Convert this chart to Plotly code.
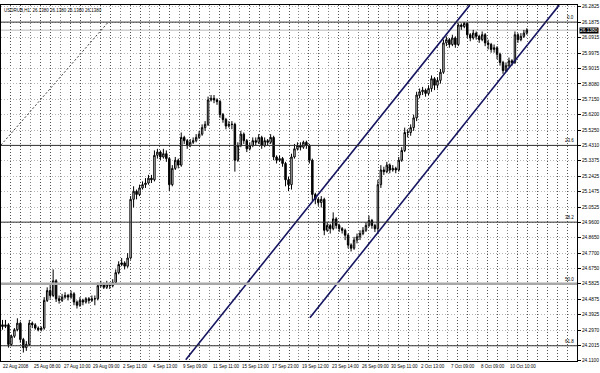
import numpy as np
import plotly.graph_objects as go

header_text = "USDRUB,H1  26.1380 26.1380 26.1380 26.1380"
last_price = 26.1380

opens = [24.33, 24.32, 24.33, 24.21, 24.26, 24.30, 24.34, 24.24, 24.19, 24.21,
         24.34, 24.33, 24.31, 24.30, 24.31, 24.48, 24.54, 24.51, 24.60, 24.49,
         24.48, 24.50, 24.51, 24.50, 24.52, 24.47, 24.45, 24.48, 24.47, 24.49,
         24.48, 24.49, 24.49, 24.57, 24.58, 24.56, 24.58, 24.57, 24.59, 24.65,
         24.70, 24.71, 24.69, 24.74, 25.10, 25.15, 25.13, 25.17, 25.19, 25.20,
         25.23, 25.22, 25.37, 25.39, 25.36, 25.38, 25.35, 25.19, 25.29, 25.34,
         25.31, 25.48, 25.46, 25.43, 25.45, 25.46, 25.48, 25.50, 25.54, 25.56,
         25.71, 25.72, 25.71, 25.70, 25.62, 25.59, 25.55, 25.56, 25.56, 25.34,
         25.43, 25.50, 25.46, 25.41, 25.43, 25.46, 25.45, 25.48, 25.43, 25.46,
         25.45, 25.48, 25.36, 25.34, 25.35, 25.32, 25.22, 25.19, 25.36, 25.41,
         25.43, 25.42, 25.45, 25.43, 25.34, 25.13, 25.10, 25.08, 25.10, 24.91,
         24.94, 24.92, 24.98, 24.94, 24.92, 24.91, 24.88, 24.82, 24.80, 24.85,
         24.87, 24.89, 24.91, 24.94, 24.97, 24.94, 24.92, 25.19, 25.28, 25.27,
         25.31, 25.28, 25.29, 25.28, 25.34, 25.40, 25.51, 25.51, 25.54, 25.60,
         25.74, 25.76, 25.77, 25.75, 25.78, 25.84, 25.80, 25.83, 25.88, 26.06,
         26.08, 26.05, 26.09, 26.05, 26.17, 26.16, 26.18, 26.11, 26.09, 26.12,
         26.10, 26.08, 26.11, 26.06, 26.05, 26.02, 26.03, 25.99, 25.94, 25.89,
         25.92, 25.95, 25.94, 26.11, 26.08, 26.10, 26.12]
highs = [24.36, 24.36, 24.34, 24.27, 24.31, 24.37, 24.35, 24.25, 24.23, 24.36,
         24.35, 24.34, 24.32, 24.32, 24.50, 24.56, 24.58, 24.67, 24.61, 24.51,
         24.52, 24.53, 24.52, 24.54, 24.53, 24.48, 24.50, 24.49, 24.50, 24.50,
         24.51, 24.51, 24.59, 24.60, 24.59, 24.60, 24.59, 24.61, 24.67, 24.72,
         24.74, 24.72, 24.77, 25.12, 25.18, 25.16, 25.19, 25.21, 25.23, 25.25,
         25.25, 25.40, 25.41, 25.40, 25.41, 25.40, 25.36, 25.31, 25.36, 25.35,
         25.51, 25.49, 25.47, 25.47, 25.48, 25.50, 25.52, 25.56, 25.58, 25.73,
         25.74, 25.74, 25.72, 25.71, 25.63, 25.60, 25.58, 25.58, 25.57, 25.45,
         25.52, 25.51, 25.47, 25.45, 25.48, 25.48, 25.50, 25.49, 25.48, 25.47,
         25.50, 25.49, 25.37, 25.37, 25.36, 25.33, 25.24, 25.38, 25.44, 25.45,
         25.45, 25.46, 25.46, 25.44, 25.35, 25.14, 25.11, 25.12, 25.11, 24.96,
         24.95, 25.02, 24.99, 24.95, 24.93, 24.92, 24.89, 24.83, 24.87, 24.89,
         24.91, 24.93, 24.96, 25.00, 24.98, 24.95, 25.22, 25.31, 25.30, 25.33,
         25.32, 25.31, 25.30, 25.36, 25.42, 25.54, 25.53, 25.56, 25.62, 25.76,
         25.78, 25.79, 25.78, 25.80, 25.86, 25.85, 25.85, 25.90, 26.08, 26.10,
         26.09, 26.11, 26.10, 26.18, 26.18, 26.1875, 26.185, 26.12, 26.14, 26.13,
         26.11, 26.13, 26.12, 26.08, 26.06, 26.05, 26.04, 26.00, 25.95, 25.94,
         25.97, 25.96, 26.13, 26.12, 26.12, 26.14, 26.15]
lows = [24.30, 24.31, 24.19, 24.20, 24.25, 24.29, 24.22, 24.16, 24.17, 24.20,
        24.31, 24.30, 24.29, 24.29, 24.30, 24.47, 24.49, 24.50, 24.47, 24.46,
        24.47, 24.49, 24.48, 24.49, 24.45, 24.43, 24.44, 24.45, 24.46, 24.46,
        24.47, 24.45, 24.48, 24.56, 24.55, 24.55, 24.55, 24.56, 24.58, 24.64,
        24.69, 24.67, 24.68, 24.73, 25.05, 25.10, 25.12, 25.16, 25.17, 25.19,
        25.20, 25.21, 25.35, 25.34, 25.35, 25.33, 25.15, 25.18, 25.28, 25.29,
        25.30, 25.44, 25.41, 25.42, 25.44, 25.45, 25.47, 25.49, 25.52, 25.55,
        25.70, 25.69, 25.68, 25.60, 25.57, 25.53, 25.54, 25.53, 25.27, 25.33,
        25.42, 25.44, 25.39, 25.40, 25.42, 25.43, 25.44, 25.41, 25.42, 25.43,
        25.44, 25.34, 25.32, 25.33, 25.30, 25.18, 25.15, 25.16, 25.35, 25.40,
        25.40, 25.41, 25.41, 25.32, 25.09, 25.07, 25.06, 25.05, 24.88, 24.90,
        24.89, 24.91, 24.92, 24.90, 24.89, 24.85, 24.80, 24.78, 24.79, 24.83,
        24.85, 24.88, 24.90, 24.93, 24.92, 24.90, 24.90, 25.17, 25.25, 25.26,
        25.26, 25.27, 25.26, 25.27, 25.33, 25.39, 25.48, 25.49, 25.52, 25.58,
        25.72, 25.74, 25.73, 25.74, 25.76, 25.77, 25.78, 25.81, 25.87, 26.04,
        26.03, 26.04, 26.03, 26.04, 26.14, 26.15, 26.09, 26.07, 26.08, 26.08,
        26.06, 26.07, 26.04, 26.02, 26.00, 26.00, 25.96, 25.92, 25.87, 25.88,
        25.91, 25.92, 25.93, 26.06, 26.07, 26.09, 26.11]
closes = [24.32, 24.33, 24.21, 24.26, 24.30, 24.34, 24.24, 24.19, 24.21, 24.34,
          24.33, 24.31, 24.30, 24.31, 24.48, 24.54, 24.51, 24.60, 24.49, 24.48,
          24.50, 24.51, 24.50, 24.52, 24.47, 24.45, 24.48, 24.47, 24.49, 24.48,
          24.49, 24.49, 24.57, 24.58, 24.56, 24.58, 24.57, 24.59, 24.65, 24.70,
          24.71, 24.69, 24.74, 25.10, 25.15, 25.13, 25.17, 25.19, 25.20, 25.23,
          25.22, 25.37, 25.39, 25.36, 25.38, 25.35, 25.19, 25.29, 25.34, 25.31,
          25.48, 25.46, 25.43, 25.45, 25.46, 25.48, 25.50, 25.54, 25.56, 25.71,
          25.72, 25.71, 25.70, 25.62, 25.59, 25.55, 25.56, 25.56, 25.34, 25.43,
          25.50, 25.46, 25.41, 25.43, 25.46, 25.45, 25.48, 25.43, 25.46, 25.45,
          25.48, 25.36, 25.34, 25.35, 25.32, 25.22, 25.19, 25.36, 25.41, 25.43,
          25.42, 25.45, 25.43, 25.34, 25.13, 25.10, 25.08, 25.10, 24.91, 24.94,
          24.92, 24.98, 24.94, 24.92, 24.91, 24.88, 24.82, 24.80, 24.85, 24.87,
          24.89, 24.91, 24.94, 24.97, 24.94, 24.92, 25.19, 25.28, 25.27, 25.31,
          25.28, 25.29, 25.28, 25.34, 25.40, 25.51, 25.51, 25.54, 25.60, 25.74,
          25.76, 25.77, 25.75, 25.78, 25.84, 25.80, 25.83, 25.88, 26.06, 26.08,
          26.05, 26.09, 26.05, 26.17, 26.16, 26.18, 26.11, 26.09, 26.12, 26.10,
          26.08, 26.11, 26.06, 26.05, 26.02, 26.03, 25.99, 25.94, 25.89, 25.92,
          25.95, 25.94, 26.11, 26.08, 26.10, 26.12, 26.138]
bars = list(range(len(closes)))

# price-axis labels
y_ticks = [26.2825, 26.1875, 26.0915, 25.9975, 25.9015, 25.8080, 25.7150, 25.6200,
           25.5250, 25.4310, 25.3375, 25.2425, 25.1475, 25.0525, 24.9600, 24.8650,
           24.7700, 24.6750, 24.5825, 24.4875, 24.3925, 24.2970, 24.2015, 24.1100]

# time-axis labels (bar index of each label)
time_labels = ["25 Aug 08:00", "27 Aug 10:00", "29 Aug 09:00", "2 Sep 11:00",
               "4 Sep 13:00", "9 Sep 09:00", "11 Sep 11:00", "15 Sep 13:00",
               "17 Sep 23:00", "19 Sep 12:00", "23 Sep 14:00", "26 Sep 09:00",
               "30 Sep 11:00", "2 Oct 13:00", "7 Oct 09:00", "8 Oct 09:00",
               "10 Oct 10:00"]
time_ticks = [9.5, 19.5, 29.5, 39.5, 49.5, 59.5, 69.5, 79.5, 89.5, 99.5, 109.5,
              119.5, 129.5, 139.5, 149.5, 159.5, 169.5]
first_label = "22 Aug 2008"
first_label_bar = -0.5

# Fibonacci retracement
fib_levels = ["0.0", "23.6", "38.2", "50.0", "61.8"]
fib_prices = [26.1875, 25.4310, 24.9600, 24.5825, 24.2015]
fib_trend_x = [-0.5, 35.5]
fib_trend_y = [25.4334, 26.1875]

# channel lines (anchor bar, price)
upper_x = [61.5, 156.83]
upper_y = [24.1155, 26.2917]
lower_x = [103.17, 186.83]
lower_y = [24.3727, 26.2917]

FONT = "Liberation Sans"
FS = 4.5
FS_Y = 4.8
x_range = [-0.5, 192.83]
y_range = [24.108, 26.2925]
CHANNEL = "#141460"

fig = go.Figure()

fig.add_trace(go.Candlestick(
    x=bars, open=opens, high=highs, low=lows, close=closes,
    increasing=dict(line=dict(color="#000000", width=1), fillcolor="#ffffff"),
    decreasing=dict(line=dict(color="#000000", width=1), fillcolor="#000000"),
    whiskerwidth=0, showlegend=False, hoverinfo="skip"))

fig.add_trace(go.Scatter(x=fib_trend_x, y=fib_trend_y, mode="lines",
                         line=dict(color="#404040", width=1, dash="2px,2px"),
                         showlegend=False, hoverinfo="skip"))
fig.add_trace(go.Scatter(x=upper_x, y=upper_y, mode="lines",
                         line=dict(color=CHANNEL, width=1.6),
                         showlegend=False, hoverinfo="skip"))
fig.add_trace(go.Scatter(x=lower_x, y=lower_y, mode="lines",
                         line=dict(color=CHANNEL, width=1.6),
                         showlegend=False, hoverinfo="skip"))

shapes = []
# current price line
shapes.append(dict(type="line", xref="paper", x0=0, x1=1, yref="y",
                   y0=last_price, y1=last_price,
                   line=dict(color="#b8b8b8", width=1), layer="below"))
for lvl, p in zip(fib_levels, fib_prices):
    if lvl == "50.0":
        ln = dict(color="#a8a8a8", width=2.5)
    else:
        ln = dict(color="#303030", width=1)
    shapes.append(dict(type="line", xref="paper", x0=0, x1=1, yref="y",
                       y0=p, y1=p, line=ln, layer="above"))

annotations = []
for lvl, p in zip(fib_levels, fib_prices):
    annotations.append(dict(text=lvl, xref="paper", x=1, xanchor="right", xshift=-1,
                            yref="y", y=p, yanchor="bottom", showarrow=False,
                            font=dict(family=FONT, size=FS, color="#000")))
for lab, t in zip(time_labels, time_ticks):
    annotations.append(dict(text=lab, xref="x", x=t, xanchor="left", xshift=1,
                            yref="paper", y=0, yanchor="top", yshift=-1,
                            showarrow=False, font=dict(family=FONT, size=FS, color="#000")))
annotations.append(dict(text=first_label, xref="x", x=first_label_bar, xanchor="left",
                        yref="paper", y=0, yanchor="top", yshift=-1,
                        showarrow=False, font=dict(family=FONT, size=FS, color="#000")))
annotations.append(dict(text=header_text, xref="paper", x=0, xanchor="left", xshift=1,
                        yref="paper", y=1, yanchor="top", yshift=-1, showarrow=False,
                        font=dict(family=FONT, size=FS, color="#000")))
annotations.append(dict(text=f"{last_price:.4f}", xref="paper", x=1, xanchor="left",
                        xshift=2, yref="y", y=last_price, yanchor="middle",
                        showarrow=False, bgcolor="#000000", borderpad=0,
                        font=dict(family=FONT, size=FS_Y, color="#ffffff")))

fig.update_layout(
    width=600, height=373,
    margin=dict(l=0, r=20, t=5, b=12),
    paper_bgcolor="#ffffff", plot_bgcolor="#ffffff",
    showlegend=False, hovermode=False,
    shapes=shapes, annotations=annotations,
    xaxis=dict(type="linear", range=x_range, rangeslider=dict(visible=False),
               tickmode="array", tickvals=time_ticks, showticklabels=False,
               ticks="", showgrid=True, gridcolor="#808080", griddash="1px,2px",
               gridwidth=1, zeroline=False,
               minor=dict(tickmode="linear", tick0=-0.5, dtick=10 / 3, showgrid=True,
                          gridcolor="#505050", griddash="1px,2px", gridwidth=1),
               showline=True, mirror=True, linecolor="#000", linewidth=1, fixedrange=True),
    yaxis=dict(side="right", range=y_range, tickmode="array", tickvals=y_ticks,
               ticktext=[f"{v:.4f}" for v in y_ticks],
               tickfont=dict(family=FONT, size=FS_Y, color="#000"),
               ticks="outside", ticklen=3, tickcolor="#000", tickwidth=1,
               showgrid=True, gridcolor="#b4b4b4", griddash="1px,2px", gridwidth=1,
               zeroline=False, showline=True, mirror=True, linecolor="#000",
               linewidth=1, fixedrange=True),
)

fig.write_html("out.html")
